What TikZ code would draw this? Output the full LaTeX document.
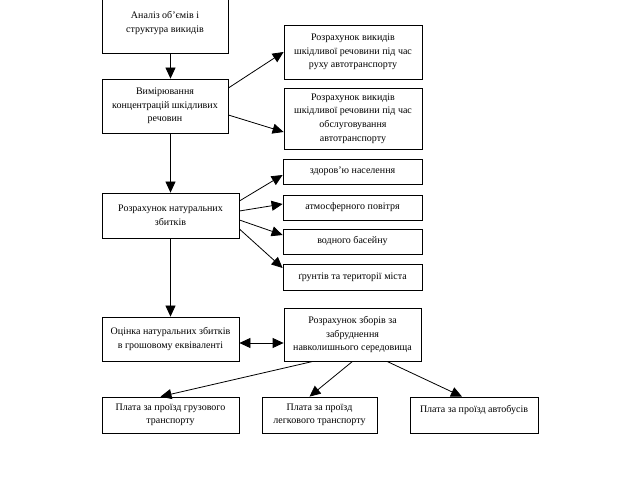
\documentclass[tikz,border=0pt]{standalone}
\usepackage{fontspec}
\setmainfont{Liberation Serif}
\usepackage{tikz}
\usetikzlibrary{arrows.meta}

\tikzset{
  box/.style={draw=black, line width=0.8pt, fill=white, align=center, inner sep=0pt,
    font=\fontsize{10}{13.6}\selectfont},
  arr/.style={line width=0.8pt, -{Triangle[length=11pt,width=10pt]}},
  dblarr/.style={line width=0.8pt, {Triangle[length=11pt,width=10pt]}-{Triangle[length=11pt,width=10pt]}}
}

\begin{document}
\begin{tikzpicture}[x=1pt, y=-1pt]
                \useasboundingbox (0,0) rectangle (622,481);
                % left column
                \node[box, minimum width=126pt, minimum height=54pt] (b1) at (165,26) {Аналіз об’ємів і\\структура викидів\\[-9pt] \strut};
                \node[box, minimum width=126pt, minimum height=54pt] (b2) at (165,106) {Вимірювання\\концентрацій шкідливих\\речовин};
                \node[box, minimum width=137pt, minimum height=45pt] (b5) at (170.5,215.5) {Розрахунок натуральних\\збитків};
                \node[box, minimum width=137pt, minimum height=44pt] (b7) at (170.5,339) {Оцінка натуральних збитків\\в грошовому еквіваленті};
                % right column
                \node[box, minimum width=138pt, minimum height=54pt] (b3) at (353,52) {Розрахунок викидів\\шкідливої речовини під час\\руху автотранспорту};
                \node[box, minimum width=138pt, minimum height=61pt] (b4) at (353,118.5) {Розрахунок викидів\\шкідливої речовини під час\\обслуговування\\автотранспорту};
                \node[box, minimum width=139pt, minimum height=25pt] (sa) at (352.5,171.5) {здоров’ю населення};
                \node[box, minimum width=139pt, minimum height=25pt] (sb) at (352.5,207.5) {атмосферного повітря};
                \node[box, minimum width=139pt, minimum height=25pt] (sc) at (352.5,241.5) {водного басейну};
                \node[box, minimum width=139pt, minimum height=26pt] (sd) at (352.5,277) {ґрунтів та території міста};
                \node[box, minimum width=137pt, minimum height=53pt] (b8) at (352.5,334.5) {Розрахунок зборів за\\забруднення\\навколишнього середовища};
                % bottom row
                \node[box, minimum width=137pt, minimum height=36pt] (b9) at (170.5,415) {Плата за проїзд грузового\\транспорту};
                \node[box, minimum width=115pt, minimum height=36pt] (b10) at (319.5,415) {Плата за проїзд\\легкового транспорту};
                \node[box, minimum width=128pt, minimum height=36pt] (b11) at (474,415) {Плата за проїзд автобусів\\[-5pt] \strut};

                \draw[arr] ([xshift=5.5pt]b1.south) -- ([xshift=5.5pt]b2.north);
                \draw[arr] ([yshift=18pt]b2.east) -- (b3.west);
                \draw[arr] ([yshift=-9pt]b2.east) -- ([yshift=-13.5pt]b4.west);
                \draw[arr] ([xshift=5.5pt]b2.south) -- (b5.north);
                \draw[arr] ([yshift=14.5pt]b5.east) -- ([yshift=-3.5pt]sa.west);
                \draw[arr] ([yshift=4.5pt]b5.east) -- ([yshift=3.5pt]sb.west);
                \draw[arr] ([yshift=-4.5pt]b5.east) -- ([yshift=6.5pt]sc.west);
                \draw[arr] ([yshift=-13.5pt]b5.east) -- ([yshift=9pt]sd.west);
                \draw[arr] (b5.south) -- (b7.north);
                \draw[dblarr] ([yshift=-4pt]b7.east) -- ([yshift=-8.5pt]b8.west);
                \draw[arr] ([xshift=-39.5pt]b8.south) -- ([xshift=-10pt]b9.north);
                \draw[arr] (b8.south) -- ([xshift=-10pt]b10.north);
                \draw[arr] ([xshift=34.5pt]b8.south) -- ([xshift=-12pt]b11.north);
            \end{tikzpicture}
\end{document}
